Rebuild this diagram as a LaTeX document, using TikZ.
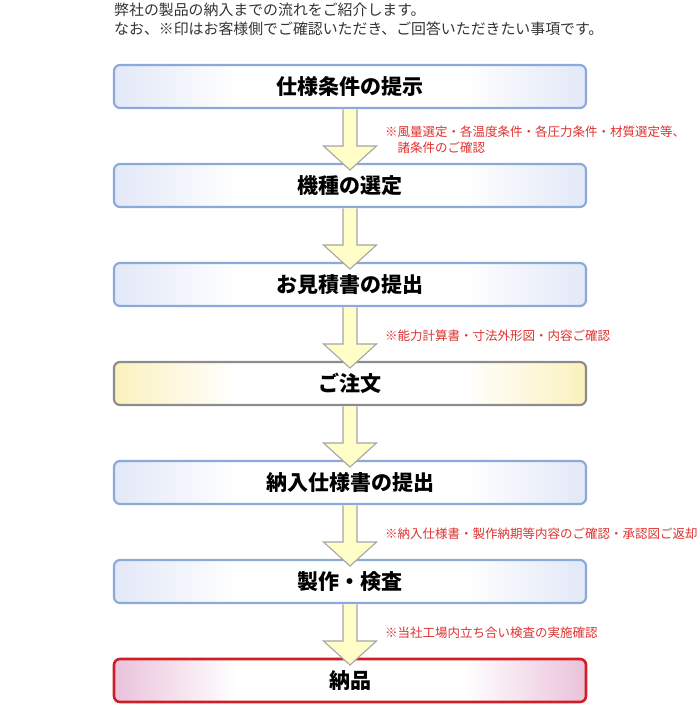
\documentclass[tikz,border=0pt]{standalone}
\usepackage{fontspec}
\setmainfont{Noto Sans CJK JP}
\usetikzlibrary{calc, positioning}
\definecolor{stepblue}{RGB}{141,169,218}
\definecolor{stepbluefill}{RGB}{226,232,247}
\definecolor{orderline}{RGB}{140,140,140}
\definecolor{orderfill}{RGB}{251,241,190}
\definecolor{deliverred}{RGB}{208,30,38}
\definecolor{deliverfill}{RGB}{234,194,219}
\definecolor{arrowfill}{RGB}{255,253,200}
\definecolor{arrowline}{RGB}{165,165,165}
\definecolor{notered}{RGB}{222,50,48}
\definecolor{introgray}{RGB}{51,51,51}
\pgfdeclarehorizontalshading{blueband}{100bp}{color(0bp)=(stepbluefill); color(25bp)=(stepbluefill); color(38bp)=(white); color(62bp)=(white); color(75bp)=(stepbluefill); color(100bp)=(stepbluefill)}
\pgfdeclarehorizontalshading{orderband}{100bp}{color(0bp)=(orderfill); color(25bp)=(orderfill); color(38bp)=(white); color(62bp)=(white); color(75bp)=(orderfill); color(100bp)=(orderfill)}
\pgfdeclarehorizontalshading{deliverband}{100bp}{color(0bp)=(deliverfill); color(25bp)=(deliverfill); color(38bp)=(white); color(62bp)=(white); color(75bp)=(deliverfill); color(100bp)=(deliverfill)}

\begin{document}
\begin{tikzpicture}[
    x=1pt, y=1pt,
    stepbox/.style={draw=stepblue, line width=2.2pt, shading=blueband,
      rounded corners=6pt, minimum width=472pt, minimum height=43pt,
      outer sep=0pt, inner sep=0pt,
      font=\fontsize{21}{25}\selectfont\bfseries},
    orderbox/.style={stepbox, draw=orderline, shading=orderband},
    deliverbox/.style={stepbox, draw=deliverred, line width=2.6pt, shading=deliverband},
    flowarrow/.style={fill=arrowfill, draw=arrowline, line width=1.1pt, line join=miter},
    note/.style={anchor=west, inner sep=0pt, align=left, text=notered,
      font=\fontsize{12.5}{16}\selectfont},
    intro/.style={anchor=west, inner sep=0pt, align=left, text=introgray,
      font=\fontsize{14.9}{19}\selectfont},
    node distance=56pt,
  ]
    \useasboundingbox (0,0) rectangle (700,-725);
    \node[intro] (intro) at (114,-19.5) {弊社の製品の納入までの流れをご紹介します。\\なお、※印はお客様側でご確認いただき、ご回答いただきたい事項です。};
    \node[stepbox] (s1) at (350,-86.5) {仕様条件の提示};
    \node[stepbox, below=of s1] (s2) {機種の選定};
    \node[stepbox, below=of s2] (s3) {お見積書の提出};
    \node[orderbox, below=of s3] (s4) {ご注文};
    \node[stepbox, below=of s4] (s5) {納入仕様書の提出};
    \node[stepbox, below=of s5] (s6) {製作・検査};
    \node[deliverbox, below=of s6] (s7) {納品};
    \foreach \a/\b in {s1/s2, s2/s3, s3/s4, s4/s5, s5/s6, s6/s7}
      \filldraw[flowarrow] ($(\a.south)+(-7,-1.3)$) -- ($(\b.north)+(-7,18)$) -- ($(\b.north)+(-26.5,18)$)
        -- ($(\b.north)+(0,-6)$) -- ($(\b.north)+(26.5,18)$) -- ($(\b.north)+(7,18)$) -- ($(\a.south)+(7,-1.3)$);
    \node[note] (n1) at ($(s1.south)!.5!(s2.north)+(35,-3.5)$) {※風量選定・各温度条件・各圧力条件・材質選定等、\\\phantom{※}諸条件のご確認};
    \node[note] (n3) at ($(s3.south)!.5!(s4.north)+(35,-2)$) {※能力計算書・寸法外形図・内容ご確認};
    \node[note] (n5) at ($(s5.south)!.5!(s6.north)+(35,-2)$) {※納入仕様書・製作納期等内容のご確認・承認図ご返却};
    \node[note] (n6) at ($(s6.south)!.5!(s7.north)+(35,-2)$) {※当社工場内立ち合い検査の実施確認};
  \end{tikzpicture}
\end{document}
